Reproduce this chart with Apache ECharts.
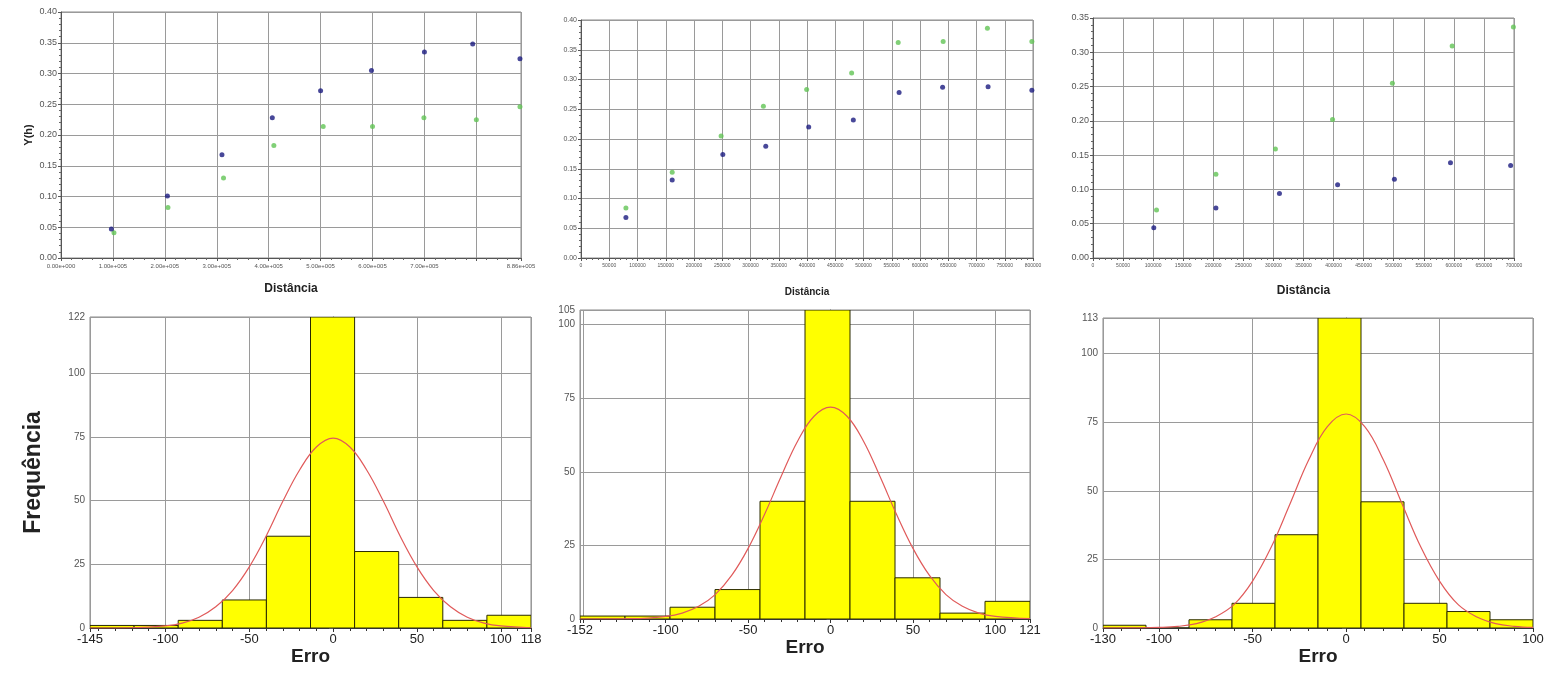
<!DOCTYPE html>
<html><head><meta charset="utf-8">
<script src="https://cdn.jsdelivr.net/npm/echarts@6/dist/echarts.min.js"></script>
<style>html,body{margin:0;padding:0;background:#fff}#c{width:1551px;height:675px}</style>
</head><body><div id="c"></div>
<script>
// ---- Top row: semivariograms (blue and green points) ----
const tlBlueX  = [97000, 205000, 310000, 407000, 500000, 598000, 700000, 793000, 884000];
const tlBlueY  = [0.047, 0.101, 0.168, 0.228, 0.272, 0.305, 0.335, 0.348, 0.324];
const tlGreenX = [102000, 206000, 313000, 410000, 505000, 600000, 699000, 800000, 884000];
const tlGreenY = [0.041, 0.082, 0.130, 0.183, 0.214, 0.214, 0.228, 0.225, 0.246];

const tmBlueX  = [79500, 161400, 251000, 327000, 403000, 482000, 563000, 640000, 720500, 798000];
const tmBlueY  = [0.068, 0.131, 0.174, 0.188, 0.220, 0.232, 0.278, 0.287, 0.288, 0.282];
const tmGreenX = [79500, 161400, 248000, 322800, 399400, 479000, 561400, 641000, 719300, 798000];
const tmGreenY = [0.084, 0.144, 0.205, 0.255, 0.283, 0.311, 0.362, 0.364, 0.386, 0.364];

const trBlueX  = [101100, 204400, 310000, 406700, 501100, 594400, 694400];
const trBlueY  = [0.044, 0.073, 0.094, 0.107, 0.115, 0.139, 0.135];
const trGreenX = [105600, 204400, 303300, 398300, 497800, 597200, 699000];
const trGreenY = [0.070, 0.122, 0.159, 0.202, 0.255, 0.309, 0.337];

const topXMax = [886000, 800000, 700000];
const topXInterval = [100000, 50000, 50000];
const topYMax = [0.40, 0.40, 0.35];

// ---- Bottom row: error histograms with fitted curve ----
const blEdges  = [-145, -118.7, -92.4, -66.1, -39.8, -13.5, 12.8, 39.1, 65.4, 91.7, 118];
const blCounts = [1, 1, 3, 11, 36, 122, 30, 12, 3, 5];
const blCurveX = [-145, -120, -100, -90, -80, -70, -60, -50, -40, -30, -20, -10, 0, 10, 20, 30, 40, 50, 60, 70, 80, 90, 100, 118];
const blCurveY = [0, 0.1, 0.8, 1.9, 4.2, 8.3, 14.7, 24, 36, 49.7, 62, 71, 74.5, 71, 62, 49.7, 36, 24, 14.7, 8.3, 4.2, 1.9, 0.8, 0.1];

const bmEdges  = [-152, -124.7, -97.4, -70.1, -42.8, -15.5, 11.8, 39.1, 66.4, 93.7, 121];
const bmCounts = [1, 1, 4, 10, 40, 105, 40, 14, 2, 6];
const bmCurveX = [-152, -120, -100, -90, -80, -70, -60, -50, -40, -30, -20, -10, 0, 10, 20, 30, 40, 50, 60, 70, 80, 90, 100, 121];
const bmCurveY = [0, 0.1, 0.9, 2.0, 4.3, 8.3, 14.8, 24, 35.6, 48.4, 60.4, 68.9, 72, 68.9, 60.4, 48.4, 35.6, 24, 14.8, 8.3, 4.3, 2.0, 0.9, 0.1];

const brEdges  = [-130, -107, -84, -61, -38, -15, 8, 31, 54, 77, 100];
const brCounts = [1, 0, 3, 9, 34, 113, 46, 9, 6, 3];
const brCurveX = [-130, -110, -100, -90, -80, -70, -60, -50, -40, -30, -20, -10, 0, 10, 20, 30, 40, 50, 60, 70, 80, 90, 100];
const brCurveY = [0, 0.05, 0.2, 0.6, 1.6, 4.0, 8.5, 17.1, 29.5, 45.2, 61.2, 73.4, 78, 73.4, 61.2, 45.2, 29.5, 17.1, 8.5, 4.0, 1.6, 0.6, 0.2];

const botXMin = [-145, -152, -130];
const botXMax = [118, 121, 100];
const botYMax = [122, 105, 113];

const BLUE = '#1a1a80', GREEN = '#62c455', YELLOW = '#ffff00', RED = '#e05a5a';
const GRIDC = '#9a9a9a';

function zip(a, b) { return a.map((v, i) => [v, b[i]]); }
function sci(v) {
  if (v === 800000) return '';
  const s = v.toExponential(2).split('e');
  const e = s[1];
  return s[0] + 'e' + e[0] + e.slice(1).padStart(3, '0');
}

const grids = [
  {left: 61, top: 12, width: 460, height: 246},
  {left: 581, top: 20, width: 452, height: 238},
  {left: 1093, top: 18, width: 421, height: 240},
  {left: 90, top: 317, width: 441, height: 311},
  {left: 580, top: 310, width: 450, height: 309},
  {left: 1103, top: 318, width: 430, height: 310}
].map(g => Object.assign({show: true, borderColor: '#8a8a8a', borderWidth: 1, backgroundColor: '#fff'}, g));

const xAxes = [], yAxes = [], series = [];
const topYLabelSize = [9, 7, 9];
const topXLabelSize = [6, 5, 5];
const distSize = [12, 10, 12];
const distGap = [25, 29, 27];

for (let i = 0; i < 3; i++) {
  xAxes.push({
    type: 'value', gridIndex: i, min: 0, max: topXMax[i], interval: topXInterval[i],
    name: 'Distância', nameLocation: 'middle', nameGap: distGap[i],
    nameTextStyle: {fontFamily: 'Liberation Sans', fontWeight: 'bold', fontSize: distSize[i], color: '#222'},
    axisLine: {show: true, lineStyle: {color: '#555'}},
    axisTick: {show: true, length: 3, lineStyle: {color: '#555'}},
    minorTick: {show: true, splitNumber: 5, length: 2, lineStyle: {color: '#666'}},
    axisLabel: {fontSize: topXLabelSize[i], color: '#555', margin: 5, showMaxLabel: true, showMinLabel: true,
      fontFamily: 'Liberation Sans', formatter: i === 0 ? sci : (v => String(v))},
    splitLine: {show: true, lineStyle: {color: GRIDC, width: 1}}
  });
  yAxes.push({
    type: 'value', gridIndex: i, min: 0, max: topYMax[i], interval: 0.05,
    name: i === 0 ? 'Y(h)' : '', nameLocation: 'middle', nameGap: 27, nameRotate: 90,
    nameTextStyle: {fontFamily: 'Liberation Sans', fontWeight: 'bold', fontSize: 11, color: '#222'},
    axisLine: {show: true, lineStyle: {color: '#555'}},
    axisTick: {show: true, length: 3, lineStyle: {color: '#555'}},
    minorTick: {show: true, splitNumber: 5, length: 2, lineStyle: {color: '#666'}},
    axisLabel: {fontSize: topYLabelSize[i], color: '#555', margin: 4, fontFamily: 'Liberation Sans',
      formatter: v => v.toFixed(2)},
    splitLine: {show: true, lineStyle: {color: GRIDC, width: 1}}
  });
}

for (let j = 0; j < 3; j++) {
  const i = j + 3;
  xAxes.push({
    type: 'value', gridIndex: i, min: botXMin[j], max: botXMax[j],
    name: 'Erro', nameLocation: 'middle', nameGap: 15,
    nameTextStyle: {fontFamily: 'Liberation Sans', fontWeight: 'bold', fontSize: 19, color: '#222'},
    axisLine: {show: true, lineStyle: {color: '#333'}},
    axisTick: {show: true, length: 4, lineStyle: {color: '#333'}},
    minorTick: {show: true, splitNumber: 5, length: 3, lineStyle: {color: '#333'}},
    axisLabel: {fontSize: 13, color: '#222', margin: 5, showMaxLabel: true, showMinLabel: true, fontFamily: 'Liberation Sans'},
    splitLine: {show: true, lineStyle: {color: GRIDC, width: 1}}
  });
  yAxes.push({
    type: 'value', gridIndex: i, min: 0, max: botYMax[j], interval: 25,
    name: j === 0 ? 'Frequência' : '', nameLocation: 'middle', nameGap: 45, nameRotate: 90,
    nameTextStyle: {fontFamily: 'Liberation Sans', fontWeight: 'bold', fontSize: 23, color: '#222'},
    axisLine: {show: true, lineStyle: {color: '#555'}},
    axisTick: {show: true, length: 4, lineStyle: {color: '#555'}},
    minorTick: {show: true, splitNumber: 5, length: 3, lineStyle: {color: '#666'}},
    axisLabel: {fontSize: 10, color: '#555', margin: 5, fontFamily: 'Liberation Sans', showMaxLabel: true},
    splitLine: {show: true, lineStyle: {color: GRIDC, width: 1}}
  });
}

const topData = [
  [tlBlueX, tlBlueY, tlGreenX, tlGreenY],
  [tmBlueX, tmBlueY, tmGreenX, tmGreenY],
  [trBlueX, trBlueY, trGreenX, trGreenY]
];
topData.forEach((d, i) => {
  series.push({type: 'scatter', xAxisIndex: i, yAxisIndex: i, symbolSize: 5, itemStyle: {color: GREEN},
    data: zip(d[2], d[3]), z: 3});
  series.push({type: 'scatter', xAxisIndex: i, yAxisIndex: i, symbolSize: 5, itemStyle: {color: BLUE},
    data: zip(d[0], d[1]), z: 4});
});

const botData = [
  [blEdges, blCounts, blCurveX, blCurveY],
  [bmEdges, bmCounts, bmCurveX, bmCurveY],
  [brEdges, brCounts, brCurveX, brCurveY]
];
botData.forEach((d, j) => {
  const i = j + 3;
  const edges = d[0], counts = d[1];
  series.push({
    type: 'custom', xAxisIndex: i, yAxisIndex: i, clip: true, z: 3,
    data: counts.map((c, k) => [edges[k], edges[k + 1], c]),
    encode: {x: [0, 1], y: 2},
    renderItem: (params, api) => {
      const p0 = api.coord([api.value(0), api.value(2)]);
      const p1 = api.coord([api.value(1), 0]);
      return {type: 'rect',
        shape: {x: p0[0], y: p0[1], width: p1[0] - p0[0], height: p1[1] - p0[1]},
        style: {fill: YELLOW, stroke: '#2a2a00', lineWidth: 1}};
    }
  });
  series.push({
    type: 'line', xAxisIndex: i, yAxisIndex: i, smooth: 0.4, showSymbol: false, z: 5,
    lineStyle: {color: RED, width: 1.2}, data: zip(d[2], d[3])
  });
});

const chart = echarts.init(document.getElementById('c'), null, {renderer: 'canvas'});
chart.setOption({
  backgroundColor: '#fff',
  animation: false,
  grid: grids, xAxis: xAxes, yAxis: yAxes, series: series
});
</script></body></html>
